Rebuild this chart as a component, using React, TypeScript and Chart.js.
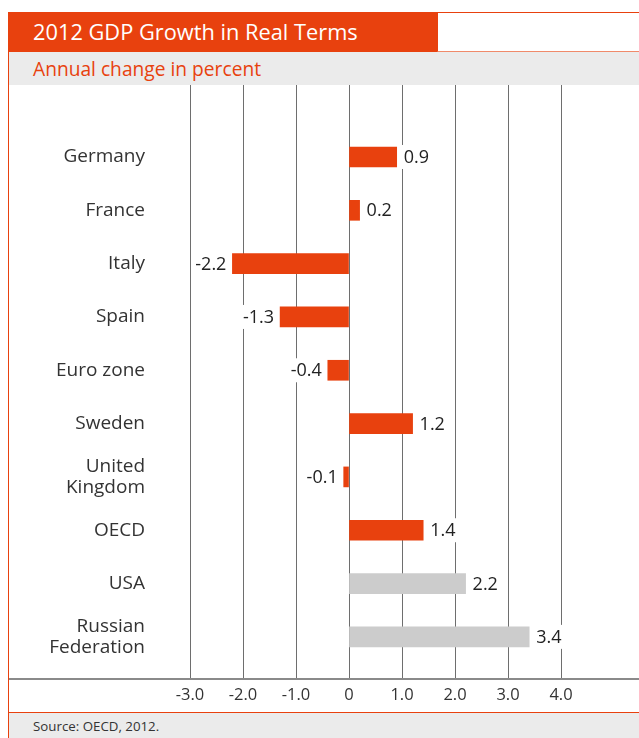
import React, { useEffect, useRef } from "react";
import { Chart, registerables } from "chart.js";

Chart.register(...registerables);

const categories: (string | string[])[] = [
  "Germany",
  "France",
  "Italy",
  "Spain",
  "Euro zone",
  "Sweden",
  ["United", "Kingdom"],
  "OECD",
  "USA",
  ["Russian", "Federation"],
];
const growth = [0.9, 0.2, -2.2, -1.3, -0.4, 1.2, -0.1, 1.4, 2.2, 3.4];
const isOecdMember = [true, true, true, true, true, true, true, true, false, false];
const xTicks = [-3, -2, -1, 0, 1, 2, 3, 4];

const ORANGE = "#e8410e";
const GRAY_BAR = "#cccccc";
const FONT = '"Open Sans", "DejaVu Sans", sans-serif';

const valueLabels = {
  id: "valueLabels",
  afterDatasetsDraw(chart: any) {
    const ctx = chart.ctx;
    const meta = chart.getDatasetMeta(0);
    ctx.save();
    ctx.font = `18px ${FONT}`;
    ctx.textBaseline = "middle";
    meta.data.forEach((bar: any, i: number) => {
      const v = growth[i];
      const txt = v.toFixed(1);
      const w = ctx.measureText(txt).width;
      let tx: number;
      if (v >= 0) {
        tx = bar.x + 7;
      } else {
        tx = bar.x - 6 - w;
      }
      ctx.fillStyle = "#ffffff";
      ctx.fillRect(tx - 3, bar.y - 12, w + 6, 24);
      ctx.fillStyle = "#222222";
      ctx.textAlign = "left";
      ctx.fillText(txt, tx, bar.y + 1);
    });
    ctx.restore();
  },
  afterDraw(chart: any) {
    const ctx = chart.ctx;
    const y = chart.chartArea.bottom;
    ctx.save();
    ctx.strokeStyle = "#8a8a8a";
    ctx.lineWidth = 2;
    ctx.beginPath();
    ctx.moveTo(0, y);
    ctx.lineTo(chart.width, y);
    ctx.stroke();
    ctx.restore();
  },
};

function GdpChart() {
  const ref = useRef<HTMLCanvasElement>(null);
  useEffect(() => {
    if (!ref.current) return;
    const chart = new Chart(ref.current, {
      type: "bar",
      data: {
        datasets: [
          {
            data: growth.map((v, i) => ({ x: v, y: i })),
            backgroundColor: isOecdMember.map((m) => (m ? ORANGE : GRAY_BAR)),
            barThickness: 20,
            borderWidth: 0,
          },
        ],
      },
      options: {
        indexAxis: "y",
        animation: false,
        responsive: false,
        layout: { padding: { left: 0, right: 78, top: 0, bottom: 0 } },
        plugins: { legend: { display: false }, tooltip: { enabled: false } },
        scales: {
          x: {
            type: "linear",
            min: -3,
            max: 4,
            offset: false,
            afterBuildTicks: (s: any) => {
              s.ticks = xTicks.map((v) => ({ value: v }));
            },
            afterFit: (s: any) => {
              s.height = 33;
              s.paddingLeft = 0;
              s.paddingRight = 0;
            },
            ticks: {
              padding: 6,
              color: "#333333",
              font: { family: FONT, size: 16.5 },
              callback: (v: any) => (Number(v) === 0 ? "0" : Number(v).toFixed(1)),
            },
            grid: { color: "#6e6e6e", lineWidth: 1, drawTicks: false, offset: false },
            border: { display: false },
          },
          y: {
            type: "linear",
            reverse: true,
            offset: false,
            min: -1.35,
            max: 9.79,
            afterBuildTicks: (s: any) => {
              s.ticks = categories.map((_, i) => ({ value: i }));
            },
            afterFit: (s: any) => {
              s.width = 181;
              s.paddingTop = 0;
              s.paddingBottom = 0;
            },
            ticks: {
              autoSkip: false,
              padding: 45,
              color: "#333333",
              font: { family: FONT, size: 19, lineHeight: 1.12 },
              callback: (v: any) => categories[Number(v)] as any,
            },
            grid: { display: false, drawTicks: false, offset: false },
            border: { display: false },
          },
        },
      },
      plugins: [valueLabels],
    });
    return () => chart.destroy();
  }, []);
  return <canvas ref={ref} width={630} height={627} style={{ display: "block" }} />;
}

export default function App() {
  return (
    <div
      style={{
        position: "absolute",
        left: 0,
        top: 0,
        width: 639,
        height: 738,
        overflow: "hidden",
        background: "#ffffff",
        fontFamily: FONT,
      }}
    >
      <div
        style={{
          position: "absolute",
          left: 8,
          top: 12,
          width: 429,
          height: 40,
          background: ORANGE,
          color: "#ffffff",
          fontSize: 21.8,
          lineHeight: "40px",
          paddingLeft: 25,
          boxSizing: "border-box",
          whiteSpace: "nowrap",
        }}
      >
        2012 GDP Growth in Real Terms
      </div>
      <div
        style={{
          position: "absolute",
          left: 437,
          top: 12,
          width: 210,
          height: 40,
          border: `1px solid ${ORANGE}`,
          borderBottomColor: "#f08a6a",
          boxSizing: "border-box",
          background: "#ffffff",
        }}
      />
      <div
        style={{
          position: "absolute",
          left: 8,
          top: 52,
          width: 640,
          height: 33,
          background: "#ebebeb",
          borderLeft: `1px solid ${ORANGE}`,
          color: ORANGE,
          fontSize: 19.2,
          lineHeight: "33px",
          paddingLeft: 24,
          boxSizing: "border-box",
          whiteSpace: "nowrap",
        }}
      >
        Annual change in percent
      </div>
      <div
        style={{
          position: "absolute",
          left: 8,
          top: 85,
          width: 640,
          height: 627,
          borderLeft: `1px solid ${ORANGE}`,
          background: "#ffffff",
        }}
      >
        <GdpChart />
      </div>
      <div
        style={{
          position: "absolute",
          left: 8,
          top: 712,
          width: 640,
          height: 40,
          background: "#ebebeb",
          borderLeft: `1px solid ${ORANGE}`,
          borderTop: `1px solid ${ORANGE}`,
          borderBottomLeftRadius: 8,
          color: "#333333",
          fontSize: 13.3,
          lineHeight: "26px",
          paddingLeft: 24,
          boxSizing: "border-box",
          whiteSpace: "nowrap",
        }}
      >
        Source: OECD, 2012.
      </div>
    </div>
  );
}
